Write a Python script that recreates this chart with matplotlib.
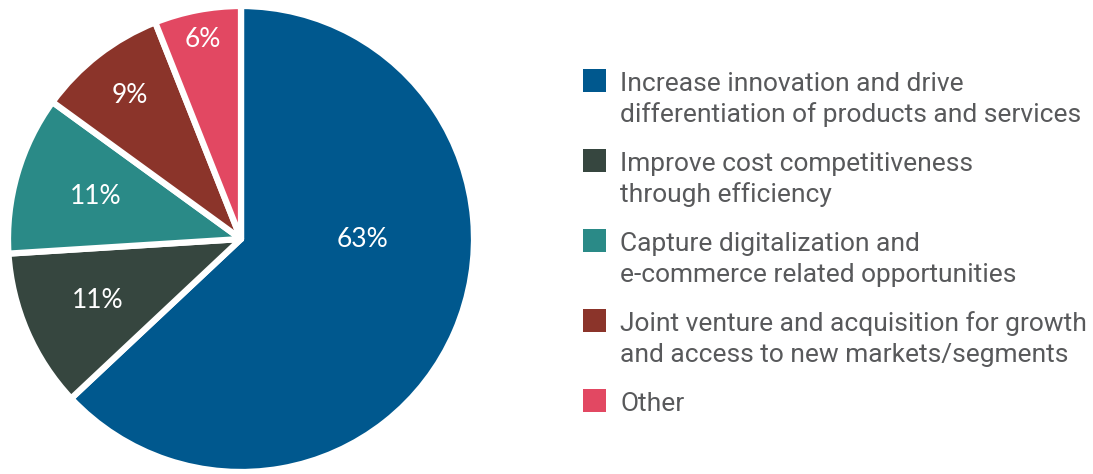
import numpy as np
import matplotlib
matplotlib.use("Agg")
import matplotlib.pyplot as plt
from matplotlib.patches import Rectangle

# Survey shares (%)
categories = [
    "Increase innovation and drive\ndifferentiation of products and services",
    "Improve cost competitiveness\nthrough efficiency",
    "Capture digitalization and\ne-commerce related opportunities",
    "Joint venture and acquisition for growth\nand access to new markets/segments",
    "Other",
]
values = [63, 11, 11, 9, 6]
colors = ["#00588E", "#36463F", "#2A8A87", "#8B342A", "#E24862"]

# label placement inside each wedge: (radial distance, angular shift in degrees)
label_dist = [0.52, 0.67, 0.65, 0.78, 0.87]
label_shift = [23.0, 0.0, 0.0, 0.0, 0.0]

W, H = 1093, 474
fig = plt.figure(figsize=(W / 100, H / 100), dpi=100)
fig.patch.set_facecolor("white")

cx, cy, r = 241, 239, 233
ax = fig.add_axes([(cx - r) / W, (H - cy - r) / H, 2 * r / W, 2 * r / H])
wedges, _ = ax.pie(values, colors=colors, startangle=90, counterclock=False,
                   radius=1.0,
                   wedgeprops=dict(edgecolor="white", linewidth=4.5,
                                   joinstyle="round"))
ax.set_xlim(-1, 1)
ax.set_ylim(-1, 1)
ax.set_aspect("equal")
ax.axis("off")

for w, v, d, s in zip(wedges, values, label_dist, label_shift):
    ang = np.deg2rad((w.theta1 + w.theta2) / 2 + s)
    ax.text(d * np.cos(ang), d * np.sin(ang), f"{v}%", color="white",
            fontsize=19, family="Lato", ha="center", va="center")

# legend
text_color = "#58595B"
sq = 23
x_sq = 583
x_txt = 620
top0 = 69
step = 80
line_h = 31
for i, (lab, col) in enumerate(zip(categories, colors)):
    top = top0 + i * step
    fig.add_artist(Rectangle((x_sq / W, (H - top - sq) / H), sq / W, sq / H,
                             transform=fig.transFigure, facecolor=col,
                             edgecolor="none"))
    for j, line in enumerate(lab.split("\n")):
        base = top + 22 + j * line_h
        fig.text(x_txt / W, (H - base) / H, line, color=text_color,
                 fontsize=19, family="Roboto", ha="left", va="baseline")

fig.savefig("out.png", dpi=100, facecolor="white")
